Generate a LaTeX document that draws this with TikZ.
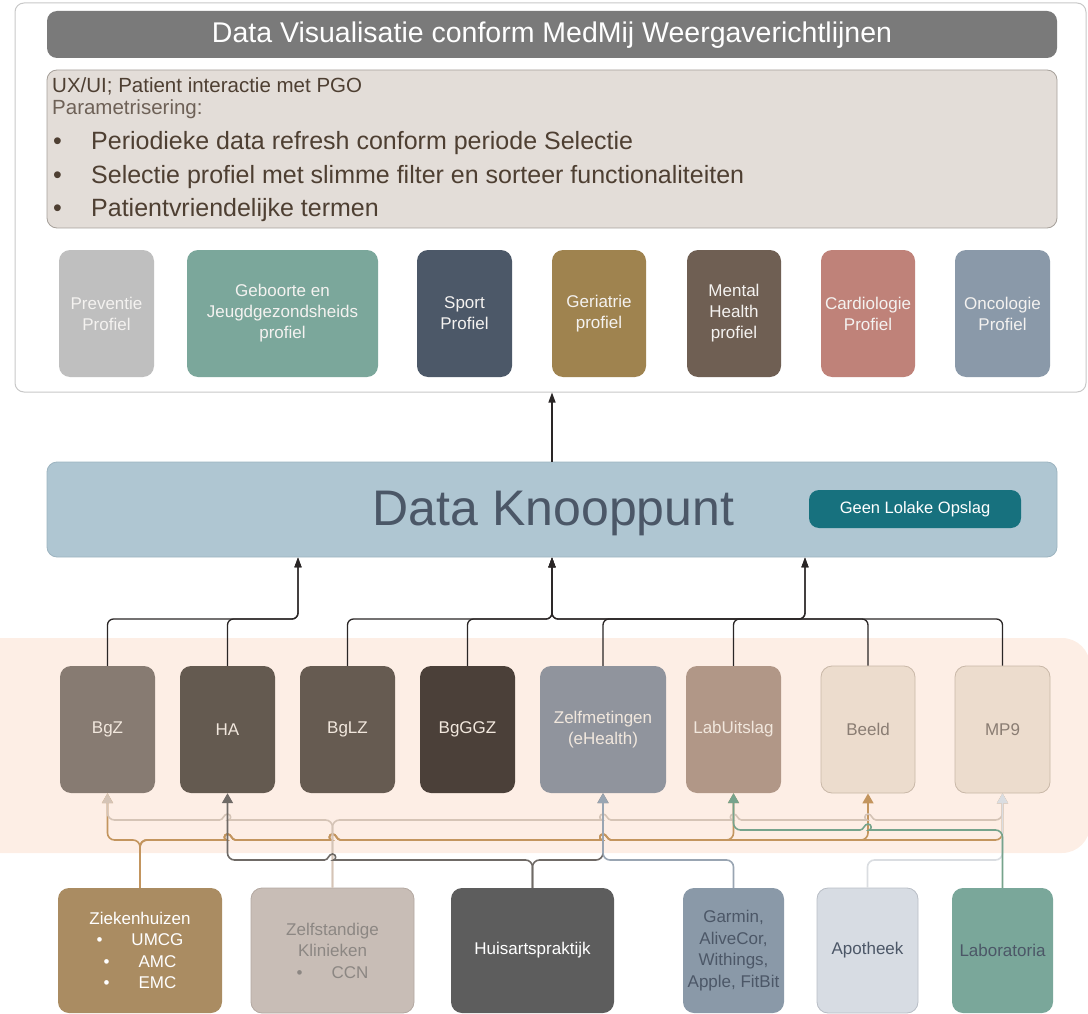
\documentclass[tikz,border=0pt]{standalone}
\usepackage{fontspec}
\setmainfont{Liberation Sans}
\usetikzlibrary{arrows.meta}
\definecolor{cOuter}{HTML}{C8C8C8}
\definecolor{cHead}{HTML}{7A7A7A}
\definecolor{cParam}{HTML}{E3DDD8}
\definecolor{cParamB}{HTML}{A6A09A}
\definecolor{cParamT}{HTML}{4E3F32}
\definecolor{cParamT2}{HTML}{6E6157}
\definecolor{cPrev}{HTML}{BFBFBF}
\definecolor{cGeb}{HTML}{7BA79B}
\definecolor{cSport}{HTML}{4C5868}
\definecolor{cGer}{HTML}{9F834F}
\definecolor{cMent}{HTML}{6F5F53}
\definecolor{cCard}{HTML}{BF8279}
\definecolor{cOnco}{HTML}{8A99A9}
\definecolor{cProfT}{HTML}{F4F2F0}
\definecolor{cDK}{HTML}{AFC6D2}
\definecolor{cDKB}{HTML}{9DB4C0}
\definecolor{cDKT}{HTML}{4B5767}
\definecolor{cGeen}{HTML}{17717E}
\definecolor{cPeach}{HTML}{FDEEE5}
\definecolor{cBgZ}{HTML}{877B72}
\definecolor{cHA}{HTML}{645A50}
\definecolor{cBgLZ}{HTML}{665B51}
\definecolor{cBgGGZ}{HTML}{4B4039}
\definecolor{cZelf}{HTML}{90949D}
\definecolor{cLabU}{HTML}{B19787}
\definecolor{cBeeld}{HTML}{ECDCCD}
\definecolor{cBeeldB}{HTML}{C9B8A8}
\definecolor{cBeeldT}{HTML}{8A7D73}
\definecolor{cMidT}{HTML}{F1E7DD}
\definecolor{cZiek}{HTML}{AA8C62}
\definecolor{cZelfst}{HTML}{C8BDB6}
\definecolor{cZelfstB}{HTML}{B3A8A1}
\definecolor{cZelfstT}{HTML}{8C8783}
\definecolor{cHuis}{HTML}{5D5D5D}
\definecolor{cGarm}{HTML}{8A99A8}
\definecolor{cApo}{HTML}{D7DCE3}
\definecolor{cApoB}{HTML}{B8BDC5}
\definecolor{cLabo}{HTML}{7AA79A}
\definecolor{cBotT}{HTML}{4C5767}
\definecolor{cBlack}{HTML}{2A2626}
\definecolor{lOrange}{HTML}{C3955E}
\definecolor{lLight}{HTML}{D5C4B6}
\definecolor{lDark}{HTML}{6F6A66}
\definecolor{lBlue}{HTML}{99A5B2}
\definecolor{lGray}{HTML}{DADDE1}
\definecolor{lGreen}{HTML}{76A38C}
\newcommand\hopR[2]{-- ({#1-8},#2) [sharp corners] .. controls ({#1-4},#2) and ({#1-4},{#2-6}) .. (#1,{#2-6}) .. controls ({#1+4},{#2-6}) and ({#1+4},#2) .. ({#1+8},#2) -- ({#1+10},#2) [rounded corners=7pt]}
\newcommand\hopL[2]{-- ({#1+8},#2) [sharp corners] .. controls ({#1+4},#2) and ({#1+4},{#2-6}) .. (#1,{#2-6}) .. controls ({#1-4},{#2-6}) and ({#1-4},#2) .. ({#1-8},#2) -- ({#1-10},#2) [rounded corners=7pt]}
\tikzset{
  lnk/.style={line width=1.6pt, rounded corners=7pt, -{Triangle[length=10pt,width=11pt]}},
  blk/.style={line width=1.3pt, draw=cBlack, rounded corners=6pt, -{Triangle[length=10pt,width=7pt]}},
  box/.style={rounded corners=11pt, inner sep=0pt, align=center, font=\fontsize{17}{21}\selectfont, minimum height=127pt},
  pbox/.style={box, text=cProfT},
  mbox/.style={box, text=cMidT, minimum width=95pt},
  bbox/.style={box, minimum height=125pt, font=\fontsize{17}{21.5}\selectfont},
  ptext/.style={anchor=base west, inner sep=0pt, text=cParamT},
}
\begin{document}
\begin{tikzpicture}[x=1pt,y=-1pt]
\useasboundingbox (0,0) rectangle (1088,1014);
% peach band
\fill[cPeach, rounded corners=28pt] (-40,638) rectangle (1090,853);
% top panel
\node[draw=cOuter, fill=white, rounded corners=9pt, line width=1pt, minimum width=1071pt, minimum height=389pt, inner sep=0pt] (outer) at (550.5,197.5) {};
\node[fill=cHead, rounded corners=10pt, minimum width=1010pt, minimum height=47pt, inner sep=0pt] (head) at (552,34.5) {};
\node[anchor=base, inner sep=0pt, text=white, font=\fontsize{28.5}{30}\selectfont] (headt) at (552,43) {Data Visualisatie conform MedMij Weergaverichtlijnen};
\node[draw=cParamB, fill=cParam, rounded corners=10pt, line width=0.8pt, minimum width=1010pt, minimum height=158pt, inner sep=0pt] (param) at (552,149) {};
\node[ptext, font=\fontsize{20.5}{24}\selectfont] (p1) at (52,93) {UX/UI; Patient interactie met PGO};
\node[ptext, text=cParamT2, font=\fontsize{20.5}{24}\selectfont] (p2) at (52,115) {Parametrisering:};
\node[ptext, font=\fontsize{25}{30}\selectfont] (p3) at (53,150) {\makebox[38pt][l]{•}Periodieke data refresh conform periode Selectie};
\node[ptext, font=\fontsize{25}{30}\selectfont] (p4) at (53,184) {\makebox[38pt][l]{•}Selectie profiel met slimme filter en sorteer functionaliteiten};
\node[ptext, font=\fontsize{25}{30}\selectfont] (p5) at (53,217) {\makebox[38pt][l]{•}Patientvriendelijke termen};
% profiles
\node[pbox, fill=cPrev, minimum width=95pt] (prev) at (106.5,313.5) {Preventie\\Profiel};
\node[pbox, fill=cGeb, minimum width=191pt] (geb) at (282.5,313.5) {Geboorte en\\Jeugdgezondsheids\\profiel};
\node[pbox, fill=cSport, minimum width=95pt] (sport) at (464.5,313.5) {Sport\\Profiel};
\node[pbox, fill=cGer, minimum width=94pt] (ger) at (599,313.5) {Geriatrie\\profiel};
\node[pbox, fill=cMent, minimum width=94pt] (ment) at (734,313.5) {Mental\\Health\\profiel};
\node[pbox, fill=cCard, minimum width=94pt] (card) at (868,313.5) {Cardiologie\\Profiel};
\node[pbox, fill=cOnco, minimum width=95pt] (onco) at (1002.5,313.5) {Oncologie\\Profiel};
% data knooppunt
\node[draw=cDKB, fill=cDK, rounded corners=10pt, line width=0.8pt, minimum width=1010pt, minimum height=95pt, inner sep=0pt] (dk) at (552,509.5) {};
\node[anchor=base, inner sep=0pt, text=cDKT, font=\fontsize{50}{56}\selectfont] (dkt) at (553.5,525) {Data Knooppunt};
\node[fill=cGeen, rounded corners=10pt, minimum width=212pt, minimum height=38pt, inner sep=0pt, text=white, font=\fontsize{16.5}{20}\selectfont] (geen) at (915,509) {Geen Lolake Opslag};
% middle row
\node[mbox, fill=cBgZ] (bgz) at (107.5,729.5) {BgZ};
\node[mbox, fill=cHA] (ha) at (227.5,729.5) {HA};
\node[mbox, fill=cBgLZ] (bglz) at (347.5,729.5) {BgLZ};
\node[mbox, fill=cBgGGZ] (bgggz) at (467.5,729.5) {BgGGZ};
\node[mbox, fill=cZelf, minimum width=126pt] (zm) at (603,729.5) {Zelfmetingen\\(eHealth)};
\node[mbox, fill=cLabU] (lu) at (733.5,729.5) {LabUitslag};
\node[mbox, fill=cBeeld, draw=cBeeldB, line width=0.8pt, text=cBeeldT, minimum width=94pt] (be) at (868,729.5) {Beeld};
\node[mbox, fill=cBeeld, draw=cBeeldB, line width=0.8pt, text=cBeeldT] (mp) at (1002.5,729.5) {MP9};
% bottom row
\node[bbox, fill=cZiek, text=white, minimum width=164pt] (zh) at (140,950.5) {Ziekenhuizen\\•\hspace{29pt}UMCG\\•\hspace{29pt}AMC\\•\hspace{29pt}EMC};
\node[bbox, fill=cZelfst, draw=cZelfstB, line width=0.8pt, text=cZelfstT, minimum width=163pt] (zk) at (332.5,950.5) {Zelfstandige\\Klinieken\\•\hspace{29pt}CCN};
\node[bbox, fill=cHuis, text=white, minimum width=163pt] (hp) at (532.5,950.5) {Huisartspraktijk};
\node[bbox, fill=cGarm, text=cBotT, minimum width=101pt] (gm) at (733.5,950.5) {Garmin,\\AliveCor,\\Withings,\\Apple, FitBit};
\node[bbox, fill=cApo, draw=cApoB, line width=0.8pt, text=cBotT, minimum width=101pt] (ap) at (867.5,950.5) {Apotheek};
\node[bbox, fill=cLabo, text=cBotT, minimum width=101pt] (lb) at (1002.5,950.5) {Laboratoria};
% black connectors
\draw[blk] (dk.north) -- (outer.south -| dk.north);
\draw[blk] (bgz.north) -- (107.5,619) -- (298,619) -- (dk.south -| 298,0);
\draw[blk] (ha.north) -- (227.5,619) -- (298,619) -- (dk.south -| 298,0);
\draw[blk] (bglz.north) -- (347.5,619) -- (552,619) -- (dk.south);
\draw[blk] (bgggz.north) -- (467.5,619) -- (552,619) -- (dk.south);
\draw[blk] (be.north) -- (868,619) -- (552,619) -- (dk.south);
\draw[blk] (mp.north) -- (1002.5,619) -- (552,619) -- (dk.south);
\draw[blk] (zm.north) -- (603,619) -- (805,619) -- (dk.south -| 805,0);
\draw[blk] (lu.north) -- (733.5,619) -- (805,619) -- (dk.south -| 805,0);
% coloured connectors
\draw[lnk, draw=lOrange] (zh.north) -- (140,840) -- (107.5,840) -- (bgz.south);
\draw[lnk, draw=lOrange] (zh.north) -- (140,840) \hopR{227.5}{840} \hopR{332.5}{840} \hopR{603}{840} -- (733.5,840) -- (lu.south);
\draw[lnk, draw=lOrange] (zh.north) -- (140,840) \hopR{227.5}{840} \hopR{332.5}{840} \hopR{603}{840} -- (868,840) -- (be.south);
\draw[lnk, draw=lOrange] (zh.north) -- (140,840) \hopR{227.5}{840} \hopR{332.5}{840} \hopR{603}{840} -- (1002.5,840) -- (mp.south);
\draw[lnk, draw=lLight] (zk.north) -- (332.5,820) \hopL{227.5}{820} -- (107.5,820) -- (bgz.south);
\draw[lnk, draw=lLight] (zk.north) -- (332.5,820) \hopR{603}{820} \hopR{733.5}{820} \hopR{868}{820} -- (1002.5,820) -- (mp.south);
\draw[lnk, draw=lDark] (hp.north) -- (532.5,860) \hopL{332.5}{860} -- (227.5,860) -- (ha.south);
\draw[lnk, draw=lDark] (hp.north) -- (532.5,860) -- (603,860) -- (zm.south);
\draw[lnk, draw=lBlue] (gm.north) -- (733.5,860) -- (603,860) -- (zm.south);
\draw[lnk, draw=lGray] (ap.north) -- (867.5,860) -- (1002.5,860) -- (mp.south);
\draw[lnk, draw=lGreen] (lb.north) -- (1002.5,830) \hopL{868}{830} -- (733.5,830) -- (lu.south);
\end{tikzpicture}
\end{document}
